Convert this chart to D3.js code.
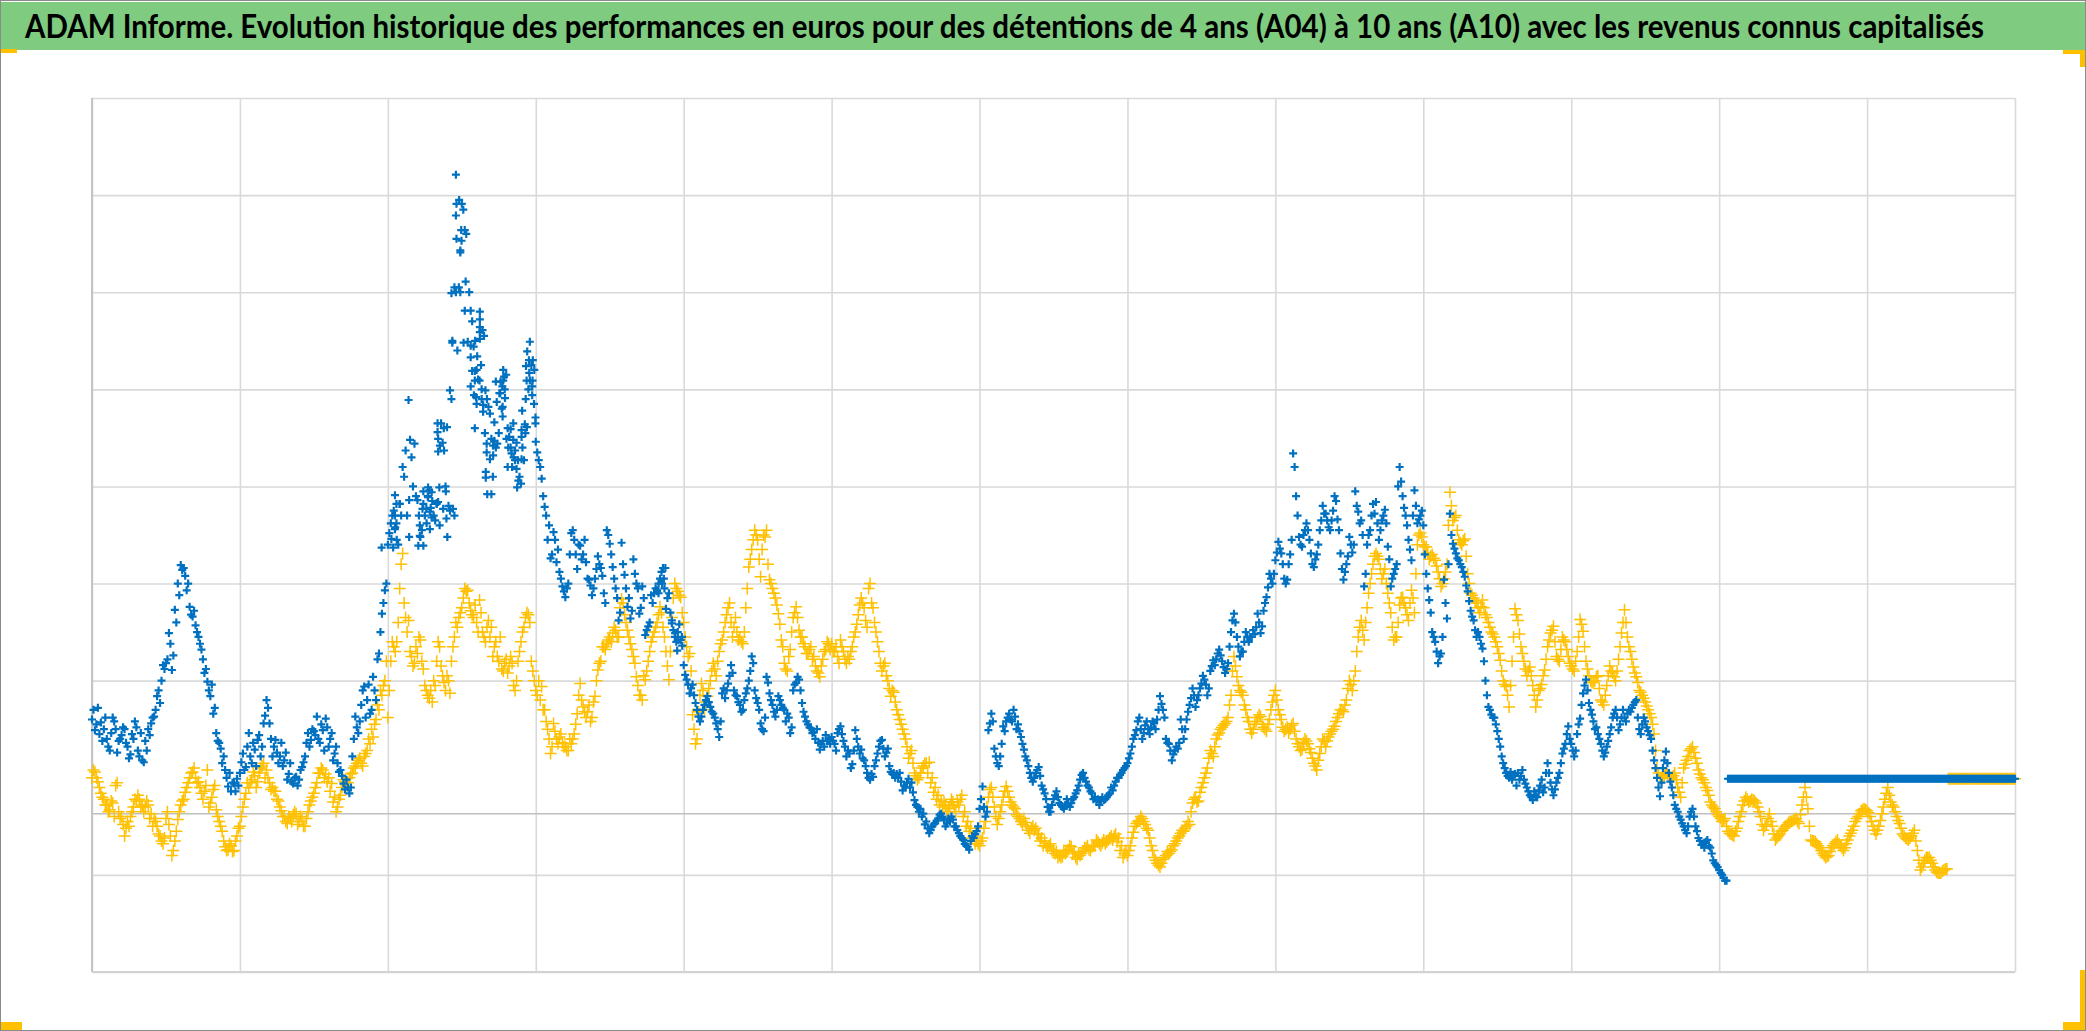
<!DOCTYPE html>
<html><head><meta charset="utf-8"><title>ADAM Informe</title>
<script src="https://cdn.jsdelivr.net/npm/d3@7"></script>
<style>html,body{margin:0;padding:0;background:#fff;overflow:hidden}svg{display:block}</style>
</head><body><svg id="c" width="2086" height="1031"></svg>
<script>
const titleText = "ADAM Informe. Evolution historique des performances en euros pour des détentions de 4 ans (A04) à 10 ans (A10) avec les revenus connus capitalisés";
const xTicks = [0,50,100,150,200,250,300,350,400,450,500,550,600,650];
const yTicks = [0,100,300,400,500,600,700,800,900];
const baseValue = 163;
// A04 : one value per period
const seriesA04 = [
260,249,272,257,250,240,228,262,250,238,244,250,232,224,240,252,222,218,238,250,
256,263,284,277,316,318,349,311,373,400,419,416,393,376,366,357,345,332,308,299,284,266,246,236,215,208,191,186,194,199,
205,225,211,246,215,229,239,222,256,280,256,222,239,215,236,218,198,215,194,201,198,211,222,246,239,248,263,236,249,261,232,246,225,215,208,194,198,184,222,263,246,275,294,280,266,304,280,328,369,393,
440,462,475,445,482,520,537,589,530,544,486,448,439,477,496,485,465,484,565,537,561,599,477,700,705,791,764,649,681,644,620,609,661,599,582,492,547,544,596,609,615,551,520,537,527,503,527,561,609,630,
546,527,508,479,445,426,453,422,412,397,386,400,452,445,415,439,430,422,404,388,405,428,416,390,455,441,417,395,362,442,409,376,364,425,400,369,397,347,356,388,390,392,405,416,374,390,362,345,350,342,
316,301,287,296,277,263,263,275,284,273,266,256,242,287,282,297,316,290,284,275,270,287,300,325,290,277,256,248,304,287,275,263,284,275,270,266,246,290,298,301,277,263,255,251,247,250,229,238,244,240,
242,235,246,253,238,222,225,214,249,232,229,218,205,198,201,218,232,239,222,230,206,205,204,205,187,190,199,195,177,170,168,163,155,143,150,153,158,163,156,153,155,157,150,143,138,132,129,135,138,145,
168,191,160,249,266,230,215,222,253,258,266,258,263,255,242,229,218,205,196,205,211,192,184,170,165,178,186,174,170,172,174,174,180,187,198,205,196,190,184,180,178,176,177,180,184,187,196,200,205,210,
215,225,240,249,262,240,254,250,252,256,260,284,270,240,235,218,228,230,260,240,260,275,292,273,285,297,301,285,310,321,322,332,320,308,318,350,369,345,325,330,350,340,345,348,369,349,372,386,410,400,
424,443,431,405,404,430,534,490,448,438,455,455,431,417,430,455,480,472,458,465,490,466,431,404,420,448,432,495,474,465,397,440,455,482,484,445,465,476,438,397,410,420,520,490,470,445,424,496,462,470,
460,410,383,350,340,318,328,404,364,472,441,431,424,417,407,392,372,362,345,345,333,300,273,265,262,248,232,215,205,200,198,204,205,202,198,190,182,177,182,187,198,190,215,195,182,195,205,225,235,253,
235,222,245,261,287,301,277,265,250,245,235,222,232,245,262,270,249,262,262,266,268,275,280,250,255,258,248,240,218,200,181,210,227,205,190,172,165,157,150,143,160,168,150,138,131,128,136,128,115,110,
105,100,94,
199,199,199,199,199,199,199,199,199,199,199,199,199,199,199,199,199,199,199,199,199,199,199,199,199,199,199,199,199,199,199,199,199,199,199,199,199,199,199,199,199,199,199,199,199,199,199,199,199,
199,199,199,199,199,199,199,199,199,199,199,199,199,199,199,199,199,199,199,199,199,199,199,199,199,199,199,199,199,199,199,199,199,199,199,199,199,199,199,199,199,199,199,199,199,199,199,199,199
];
// A04 : second reading in each period (half a period later)
const seriesA04Mid = [
270,255,245,238,262,232,246,258,226,240,252,236,220,245,258,228,246,216,228,244,
262,270,290,300,312,322,338,326,360,388,414,408,400,368,372,350,338,322,312,290,296,272,238,230,222,200,205,195,186,192,
216,208,232,222,236,212,244,232,264,272,240,232,226,222,212,226,204,196,200,192,208,216,236,232,250,244,240,255,228,252,240,218,232,206,202,188,190,190,240,252,258,290,262,296,270,290,322,350,380,400,
452,470,458,440,470,510,470,548,500,490,470,455,470,490,478,470,482,460,545,500,480,590,470,640,700,785,760,700,670,650,610,625,655,590,575,510,540,555,580,600,560,540,530,545,510,540,555,600,625,620,
535,520,490,470,460,430,445,435,405,392,395,430,455,430,440,425,445,405,398,395,415,420,408,380,450,430,405,385,370,420,395,385,372,410,395,375,385,352,360,380,395,400,412,395,385,370,352,340,358,336,
306,296,292,285,270,258,270,280,278,268,262,250,258,292,290,305,308,285,278,268,280,292,310,318,282,270,250,262,298,280,268,270,280,272,258,262,252,296,304,290,268,258,252,246,240,236,235,232,238,235,
238,228,250,245,232,228,210,228,240,225,220,212,200,204,212,225,238,230,226,212,204,200,200,196,192,195,190,185,172,165,160,152,148,146,152,156,162,160,150,158,160,150,146,140,136,130,126,140,142,150,
178,170,165,256,258,222,212,235,248,262,260,270,250,248,235,222,212,200,200,208,202,188,178,165,172,182,180,172,168,178,170,178,184,192,203,200,192,186,178,176,172,180,178,182,190,192,200,203,208,212,
220,232,244,258,250,246,258,245,258,250,270,276,262,236,228,224,232,236,250,250,268,282,285,280,292,305,296,292,315,316,328,326,314,312,335,362,360,335,330,340,345,345,352,355,360,356,380,396,405,410,
432,436,420,400,420,445,520,470,440,450,462,445,420,425,440,465,472,465,455,475,485,455,415,412,428,440,440,480,462,450,410,450,470,472,462,455,470,462,425,405,415,500,505,478,460,435,470,480,466,475,
430,395,370,345,330,325,345,380,420,450,436,426,420,412,398,382,366,352,350,338,320,285,270,262,255,240,222,210,202,206,202,192,198,208,194,186,180,186,180,192,185,205,205,188,188,200,215,230,245,240,
228,228,255,275,295,290,270,258,252,240,228,226,238,252,266,262,255,270,258,270,272,278,262,245,262,252,244,228,210,190,195,218,215,196,182,168,160,153,146,150,165,160,145,135,132,134,130,122,112,108,
102,97,94,
199,199,199,199,199,199,199,199,199,199,199,199,199,199,199,199,199,199,199,199,199,199,199,199,199,199,199,199,199,199,199,199,199,199,199,199,199,199,199,199,199,199,199,199,199,199,199,199,199,
199,199,199,199,199,199,199,199,199,199,199,199,199,199,199,199,199,199,199,199,199,199,199,199,199,199,199,199,199,199,199,199,199,199,199,199,199,199,199,199,199,199,199,199,199,199,199,199
];
// A04 : further readings where several points share one period [period, value]
const extraA04 = [
[123,821],[124.1,795],[123.2,791],[123,779],[124.8,764],[123.2,755],[124.9,753],[124.5,743],[124.5,741],[126.3,711],[122.5,705],[121.5,699],[126,681],[121.8,650],[121.8,648],[125.6,648],[128,645],[128,633],[130.2,634],
[131.1,680],[131.1,672],[131.1,664],[131.1,659],[131.1,652],[128.5,619],[129.4,619],[129.4,609],[128,603],[131.7,600],[129.1,594],[129.8,592],[131.7,590],[130,585],[132.2,584],[132.2,577],[129.4,560],[132.8,555],[136,566],
[133.4,544],[135,549],[135.6,542],[133.4,535],[135.6,532],[134.5,528],[133.1,515],[133.1,509],[133.6,492],[139,620],[139.3,613],[136.5,608],[138.1,608],[138.7,603],[137.7,596],[139.6,591],[136.8,587],[138.8,582],[138.8,572],
[142.4,565],[141.5,559],[140.1,549],[142.4,548],[140.7,540],[141.8,534],[143,527],[140.5,520],[143.5,518],[144.1,506],[143.7,499],[145.2,528],[145.2,558],[146.3,564],[145.2,551],[148,649],[147.1,639],[147.7,630],[146.7,624],
[147.8,617],[146.9,609],[148.9,609],[148.8,603],[148.8,594],[146.6,590],[149.4,585],[145.4,578],[149.9,571],[149.9,565],
[102.4,491],[102.9,482],[104,482],[102.4,470],[102.9,462],[102.4,456],[101.2,446],[97.9,437],[101.8,437],[107.2,486],[107.2,448],[110.8,460],[110.8,449],[110.3,439],[113.6,499],[112,495],[114.8,494],[113.6,489],[112,482],[116.5,483],
[111.7,477],[114.2,474],[114.8,468],[113.1,462],[114.2,456],[117.4,499],[119.6,495],[118.7,477],[121,475],[119.8,467],[120.1,448],[116.8,565],[116.8,556],[117,549],[117.6,542],[117,536],[118.9,560],
[191.5,390],[193.3,405],[193.8,416],[191,393],[192.7,400],[196,359],[197.1,349],[198.2,342],[199.4,345],[197.8,331]
];
// A10 : one value per period
const seriesA10 = [
200,206,196,184,178,172,167,174,192,165,160,140,155,160,170,176,178,172,170,172,163,158,150,140,132,158,152,120,135,157,172,178,190,200,206,200,196,184,186,208,174,188,167,155,145,129,126,130,125,140,
150,170,184,190,198,202,196,210,215,208,195,190,186,176,166,160,153,158,162,163,155,158,150,165,176,184,195,205,208,204,200,194,180,170,182,198,192,200,205,212,218,215,222,228,235,242,260,270,285,300,
262,320,335,340,395,431,365,362,325,318,328,342,312,290,282,278,295,340,315,298,305,287,335,360,365,375,395,393,372,365,360,383,350,340,362,355,335,325,345,310,322,315,318,290,320,340,355,370,360,310,
290,300,294,270,250,225,256,240,242,236,232,228,235,245,266,297,273,262,275,262,284,311,320,335,338,345,349,352,345,384,368,352,338,325,304,285,280,301,320,340,350,360,376,355,330,301,365,400,392,386,
360,335,328,265,235,268,297,270,284,300,318,305,330,342,360,375,360,355,350,345,338,375,417,435,455,445,407,450,455,404,395,385,369,342,318,310,332,365,376,352,345,335,328,335,325,310,304,322,332,338,
338,330,325,342,330,318,322,335,350,368,385,375,355,400,375,350,330,310,318,300,284,288,270,260,250,240,220,228,205,198,205,212,215,216,200,190,182,176,175,165,172,175,165,172,182,165,155,148,140,135,
130,138,155,180,190,170,152,165,180,191,180,172,168,160,155,158,150,143,150,148,142,138,135,128,132,125,124,120,119,122,126,129,124,116,120,124,128,126,129,130,134,130,136,134,138,136,142,138,130,122,
120,130,144,153,156,158,152,146,130,118,112,108,116,120,122,126,132,138,143,145,150,152,174,180,176,190,200,210,228,222,240,246,252,256,262,285,325,304,290,285,270,258,246,255,262,263,252,248,260,278,
290,270,260,248,252,250,256,240,232,229,240,235,226,215,208,225,240,232,242,248,253,262,270,268,280,300,290,310,345,362,342,375,400,420,431,425,405,415,390,370,342,345,378,386,375,362,393,370,440,452,
440,438,425,430,424,412,397,405,420,494,465,470,445,440,446,410,390,385,380,370,383,368,360,350,345,335,321,300,294,273,320,374,362,335,320,305,314,295,273,290,296,311,335,349,356,325,320,345,340,325,
315,310,330,363,351,320,305,298,300,305,280,275,295,315,308,300,322,349,373,345,330,314,304,290,285,278,270,262,245,210,200,200,205,202,200,205,190,180,210,218,228,232,220,208,200,195,187,175,170,165,
160,155,158,145,142,140,148,160,172,180,175,178,176,170,160,146,152,163,150,136,140,145,148,152,155,156,158,153,172,190,168,136,135,132,128,122,118,120,128,132,136,130,125,132,140,146,155,160,166,168,
166,160,150,142,150,163,178,190,175,170,160,153,142,138,136,140,146,125,105,112,118,118,112,105,102,102,105,106,
199,199,199,199,199,199,199,199,199,199,199,199,199,199,199,199,199,199,199,199,199,199,199
];
// A10 : second reading in each period (half a period later)
const seriesA10Mid = [
208,200,190,180,172,165,176,160,195,158,152,148,150,165,178,182,170,165,176,158,150,155,142,135,138,165,140,125,145,165,176,185,195,205,210,195,190,178,192,170,180,192,160,150,135,125,132,124,135,148,
160,178,195,195,206,190,205,212,200,200,188,186,178,170,160,155,160,155,165,152,160,150,158,172,180,190,205,210,200,196,186,175,165,178,190,196,195,204,210,215,220,212,225,240,250,255,275,290,295,320,
290,340,330,360,420,380,350,330,315,335,345,320,295,285,290,300,320,335,305,290,300,320,345,355,370,385,392,380,368,378,350,370,345,355,345,325,340,320,312,318,308,325,295,300,330,350,365,368,320,300,
285,280,270,258,240,232,248,235,245,232,228,240,240,255,285,280,268,268,258,278,300,318,335,332,342,340,355,345,375,380,360,345,332,318,295,285,305,310,330,345,355,368,370,345,315,330,385,395,388,370,
345,325,310,250,240,285,290,278,292,310,312,320,338,350,368,380,345,365,342,340,350,395,425,445,450,425,435,448,420,400,390,378,358,335,312,325,350,370,365,345,338,328,332,322,315,308,315,330,340,332,
330,335,318,335,322,325,330,345,358,378,380,362,395,380,360,340,318,315,305,292,290,278,265,255,245,232,225,215,202,200,210,215,205,195,185,178,172,170,172,168,178,170,175,178,160,150,145,138,132,132,
135,148,170,188,180,160,158,172,186,186,175,170,162,158,152,154,146,148,146,142,135,130,130,130,125,122,118,118,125,125,130,122,118,122,122,128,130,125,130,136,132,133,132,136,140,140,134,125,118,125,
125,138,150,155,160,155,148,138,125,115,110,112,118,124,124,130,135,140,146,148,155,165,178,175,185,195,205,220,225,232,244,250,254,258,275,310,315,295,288,275,262,250,250,258,265,255,250,255,270,285,
280,265,252,250,246,254,248,235,228,236,238,230,220,212,218,232,238,238,245,250,258,266,270,275,292,296,300,330,355,352,360,390,410,428,428,415,410,400,380,355,345,360,385,380,368,380,385,410,450,448,
438,432,428,426,418,405,400,412,460,480,468,455,442,444,428,400,388,382,375,376,375,365,355,348,340,328,310,296,285,295,345,368,348,328,312,310,305,285,280,292,305,322,342,352,340,322,332,342,332,318,
312,320,345,358,335,312,300,298,304,292,278,285,305,310,304,310,335,360,360,335,322,308,298,288,282,274,266,255,228,205,200,202,204,200,202,198,185,195,214,222,230,226,215,204,198,190,182,172,168,162,
158,156,150,143,141,145,155,165,176,178,176,177,174,165,152,150,158,155,142,138,142,146,150,154,155,157,155,162,180,180,150,135,134,130,125,120,119,124,130,134,132,128,128,136,143,150,158,163,167,167,
164,155,146,146,156,170,184,182,172,165,156,148,140,137,138,143,135,115,108,115,118,115,108,103,102,104,106,
199,199,199,199,199,199,199,199,199,199,199,199,199,199,199,199,199,199,199,199,199,199,199
];

const width = 2086, height = 1031;
const svg = d3.select("#c");
const x = d3.scaleLinear().domain([0,650]).range([92,2015]);
const y = d3.scaleLinear().domain([0,900]).range([972,98]);

// frame and band
svg.append("rect").attr("x",0.5).attr("y",0.5).attr("width",width-1).attr("height",height-1).attr("fill","#fff").attr("stroke","#8a8a8a");
svg.append("rect").attr("x",1).attr("y",2).attr("width",width-2).attr("height",48).attr("fill","#7fcb80");
const title = svg.append("text").attr("font-family","Lato").attr("font-weight",700).attr("font-size",33)
  .attr("fill","#000").text(titleText);
const titleWidth = title.node().getComputedTextLength();
title.attr("transform",`translate(25,38) scale(${1960/titleWidth},1)`);
const orange = "#ffc000";
[[1,49,16,4],[2063,50,22,4],[2080,50,5,17],[1,1022,21,8],[2063,1022,22,8],[2080,970,5,60]].forEach(r=>
  svg.append("rect").attr("x",r[0]).attr("y",r[1]).attr("width",r[2]).attr("height",r[3]).attr("fill",orange));

// axes drawn as gridlines
const gx = svg.append("g").attr("transform",`translate(0,${y(0)})`)
  .call(d3.axisBottom(x).tickValues(xTicks).tickSize(-(y(0)-y(900))).tickFormat(""));
const gy = svg.append("g").attr("transform",`translate(${x(0)},0)`)
  .call(d3.axisLeft(y).tickValues(yTicks).tickSize(-(x(650)-x(0))).tickFormat(""));
gx.select(".domain").remove(); gy.select(".domain").remove();
svg.selectAll("g.tick line").attr("stroke","#d9d9d9").attr("stroke-width",1.6);
svg.append("line").attr("x1",x(0)).attr("x2",x(0)).attr("y1",y(900)).attr("y2",y(0)).attr("stroke","#c4c4c4").attr("stroke-width",2);
svg.append("line").attr("x1",x(0)).attr("x2",x(650)).attr("y1",y(0)).attr("y2",y(0)).attr("stroke","#d2d2d2").attr("stroke-width",2);
svg.append("line").attr("x1",x(0)).attr("x2",x(650)).attr("y1",y(baseValue)).attr("y2",y(baseValue)).attr("stroke","#bfbfbf").attr("stroke-width",1.6);

// marks
const cross = r => `M${-r},0H${r}M0,${-r}V${r}`;
const toRows = (vals, off) => vals.map((v,i)=>[i+off,v]);
const rowsA10 = toRows(seriesA10,0).concat(toRows(seriesA10Mid,0.5));
const rowsA04 = toRows(seriesA04,0).concat(toRows(seriesA04Mid,0.5), extraA04);
const orangeG = svg.append("g").attr("fill","none").attr("stroke",orange).attr("stroke-width",1.5);
orangeG.selectAll("path").data(rowsA10).join("path")
  .attr("transform",d=>`translate(${x(d[0])},${y(d[1])})`).attr("d",cross(6));
const blueG = svg.append("g").attr("fill","none").attr("stroke","#0070c0").attr("stroke-width",2.2);
blueG.selectAll("path").data(rowsA04).join("path")
  .attr("transform",d=>`translate(${x(d[0])},${y(d[1])})`).attr("d",cross(4));
</script></body></html>
